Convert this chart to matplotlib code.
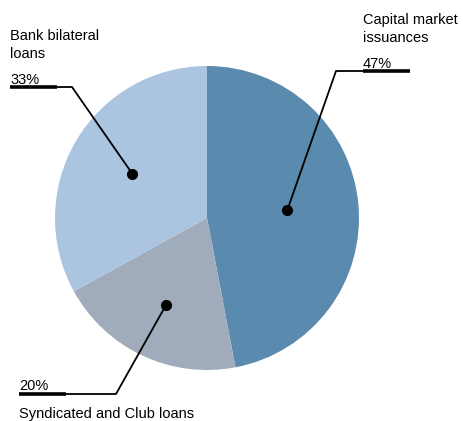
import matplotlib.pyplot as plt
import numpy as np

plt.rcParams['font.family'] = ['Liberation Sans', 'DejaVu Sans']

labels = ["Capital market\nissuances", "Syndicated and Club loans", "Bank bilateral\nloans"]
shares = [47, 20, 33]
colors = ["#5A8AAD", "#A0ACBC", "#ABC5E0"]

W, H = 464, 421
fig = plt.figure(figsize=(W / 100, H / 100), dpi=100)
ax = fig.add_axes([0, 0, 1, 1])

cx, cy, r = 207, H - 218, 152
wedges, _ = ax.pie(shares, colors=colors, startangle=90, counterclock=False,
                   center=(cx, cy), radius=r, frame=True,
                   wedgeprops=dict(linewidth=0))
ax.set_xlim(0, W)
ax.set_ylim(0, H)
ax.set_aspect("equal")
ax.axis("off")

# label anchor: (text x, underline y in px from top, knee x, label side)
anchors = [
    (363, 71, 336, "above"),
    (19, 394, 116, "below"),
    (10, 87, 72, "above"),
]
dot_r = [0.53, 0.63, 0.57]

for w, lab, pct, (tx, uy, kx, side), fr in zip(wedges, labels, shares, anchors, dot_r):
    mid = np.deg2rad((w.theta1 + w.theta2) / 2)
    dx = cx + fr * r * np.cos(mid)
    dy = cy + fr * r * np.sin(mid)
    y = H - uy
    ax.plot([tx, kx, dx], [y, y, dy], color="black", lw=1.3, solid_capstyle="butt")
    ax.plot([tx, tx + 47], [y, y], color="black", lw=2.6, solid_capstyle="butt")
    ax.plot(dx, dy, "o", color="black", ms=7)
    ax.text(tx, y + 3.5, f"{pct}%", fontsize=10.5, ha="left", va="baseline")
    if side == "above":
        ax.text(tx, y + 29, lab, fontsize=10.5, ha="left", va="baseline", linespacing=1.4)
    else:
        ax.text(tx, y - 24, lab, fontsize=10.5, ha="left", va="baseline")

fig.savefig("out.png", dpi=100)
